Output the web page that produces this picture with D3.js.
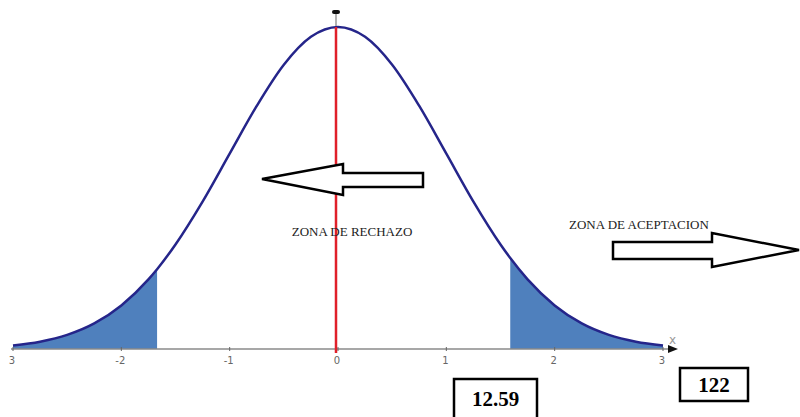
<!DOCTYPE html>
<html>
<head>
<meta charset="utf-8">
<script src="https://cdn.jsdelivr.net/npm/d3@7"></script>
<style>
  body { margin: 0; background: #fff; }
  svg { display: block; }
</style>
</head>
<body>
<div id="chart"></div>
<script>
// curve (z, density)
var zValues = [-3, -2.75, -2.5, -2.25, -2, -1.75, -1.67, -1.5, -1.25, -1, -0.75, -0.5, -0.25, 0,
               0.25, 0.5, 0.75, 1, 1.25, 1.5, 1.59, 1.75, 2, 2.25, 2.5, 2.75, 3];
var density = [0.0044, 0.0091, 0.0175, 0.0317, 0.054, 0.0863, 0.0989, 0.1295, 0.1826, 0.242, 0.3011, 0.3521, 0.3867, 0.3989,
               0.3867, 0.3521, 0.3011, 0.242, 0.1826, 0.1295, 0.1127, 0.0863, 0.054, 0.0317, 0.0175, 0.0091, 0.0044];
var tickValues = [-3, -2, -1, 0, 1, 2, 3];
var tickLabels = ["3", "-2", "-1", "0", "1", "2", "3"];
var leftCut = -1.67;
var rightCut = 1.59;
var zoneLabels = ["ZONA DE RECHAZO", "ZONA DE ACEPTACION"];
var boxValues = ["12.59", "122"];

var width = 800, height = 417;
var svg = d3.select('#chart').append('svg')
    .attr('width', width)
    .attr('height', height);

var x = d3.scaleLinear().domain([-3, 3]).range([13, 663]);
var y = d3.scaleLinear().domain([0, 0.3989]).range([349, 27]);

var points = zValues.map(function(z, i) { return { z: z, d: density[i] }; });

// shaded tails
var area = d3.area()
    .x(function(d) { return x(d.z); })
    .y0(y(0))
    .y1(function(d) { return y(d.d); })
    .curve(d3.curveMonotoneX);

svg.append('path')
    .datum(points.filter(function(d) { return d.z <= leftCut; }))
    .attr('d', area)
    .attr('fill', '#4f80bd');
svg.append('path')
    .datum(points.filter(function(d) { return d.z >= rightCut; }))
    .attr('d', area)
    .attr('fill', '#4f80bd');

// x axis
var axisY = y(0);
svg.append('line')
    .attr('x1', 11).attr('x2', 670)
    .attr('y1', axisY).attr('y2', axisY)
    .attr('stroke', '#8a8a8a').attr('stroke-width', 1.5);
svg.append('path')
    .attr('d', 'M668,' + (axisY - 4) + ' L678,' + axisY + ' L668,' + (axisY + 4) + ' Z')
    .attr('fill', '#111');
svg.append('text')
    .attr('x', 669).attr('y', axisY - 5)
    .attr('font-family', 'DejaVu Sans, sans-serif')
    .attr('font-size', 12)
    .attr('fill', '#999')
    .text('x');

svg.selectAll('line.tick')
    .data(tickValues)
    .enter().append('line')
    .attr('class', 'tick')
    .attr('x1', function(d) { return x(d); })
    .attr('x2', function(d) { return x(d); })
    .attr('y1', axisY - 2).attr('y2', axisY + 2)
    .attr('stroke', '#666');

svg.selectAll('text.ticklabel')
    .data(tickValues)
    .enter().append('text')
    .attr('class', 'ticklabel')
    .attr('x', function(d) { return x(d) - 1; })
    .attr('y', axisY + 15)
    .attr('text-anchor', 'middle')
    .attr('font-family', 'DejaVu Sans, sans-serif')
    .attr('font-size', 10)
    .attr('fill', '#666')
    .text(function(d, i) { return tickLabels[i]; });

// y axis stub above the peak
svg.append('line')
    .attr('x1', x(0) - 2).attr('x2', x(0) - 2)
    .attr('y1', 13).attr('y2', axisY)
    .attr('stroke', '#999').attr('stroke-width', 1.5);
svg.append('rect')
    .attr('x', x(0) - 6).attr('y', 10)
    .attr('width', 8).attr('height', 4)
    .attr('rx', 2)
    .attr('fill', '#111');

// normal curve
var line = d3.line()
    .x(function(d) { return x(d.z); })
    .y(function(d) { return y(d.d); })
    .curve(d3.curveMonotoneX);

svg.append('path')
    .datum(points)
    .attr('d', line)
    .attr('fill', 'none')
    .attr('stroke', '#25258a')
    .attr('stroke-width', 2.5);

// red line at mean
svg.append('line')
    .attr('x1', x(0) - 2).attr('x2', x(0) - 2)
    .attr('y1', y(0.3989)).attr('y2', axisY + 4)
    .attr('stroke', '#e0202a').attr('stroke-width', 2.5);

// arrows
function arrowPath(pts) {
    return 'M' + pts.map(function(p) { return p.join(','); }).join(' L') + ' Z';
}
svg.append('path')
    .attr('d', arrowPath([[262, 179], [343, 164], [343, 173], [423, 173], [423, 187], [343, 187], [343, 195]]))
    .attr('fill', '#fff')
    .attr('stroke', '#000')
    .attr('stroke-width', 2.5);
svg.append('path')
    .attr('d', arrowPath([[613, 242], [712, 242], [712, 233], [799, 250], [712, 267], [712, 259], [613, 259]]))
    .attr('fill', '#fff')
    .attr('stroke', '#000')
    .attr('stroke-width', 2.5);

// zone labels
svg.append('text')
    .attr('x', 352).attr('y', 236)
    .attr('text-anchor', 'middle')
    .attr('font-family', 'Liberation Serif, serif')
    .attr('font-size', 13)
    .attr('fill', '#222')
    .text(zoneLabels[0]);
svg.append('text')
    .attr('x', 569).attr('y', 229)
    .attr('font-family', 'Liberation Serif, serif')
    .attr('font-size', 13)
    .attr('fill', '#222')
    .text(zoneLabels[1]);

// value boxes
var boxes = [
    { x: 454, y: 379, w: 83, h: 42, ty: 406, text: boxValues[0] },
    { x: 680, y: 368, w: 68, h: 33, ty: 392, text: boxValues[1] }
];
boxes.forEach(function(b) {
    svg.append('rect')
        .attr('x', b.x).attr('y', b.y)
        .attr('width', b.w).attr('height', b.h)
        .attr('fill', '#fff')
        .attr('stroke', '#000')
        .attr('stroke-width', 2.5);
    svg.append('text')
        .attr('x', b.x + b.w / 2).attr('y', b.ty)
        .attr('text-anchor', 'middle')
        .attr('font-family', 'Liberation Serif, serif')
        .attr('font-weight', 'bold')
        .attr('font-size', 21)
        .attr('fill', '#000')
        .text(b.text);
});
</script>
</body>
</html>
